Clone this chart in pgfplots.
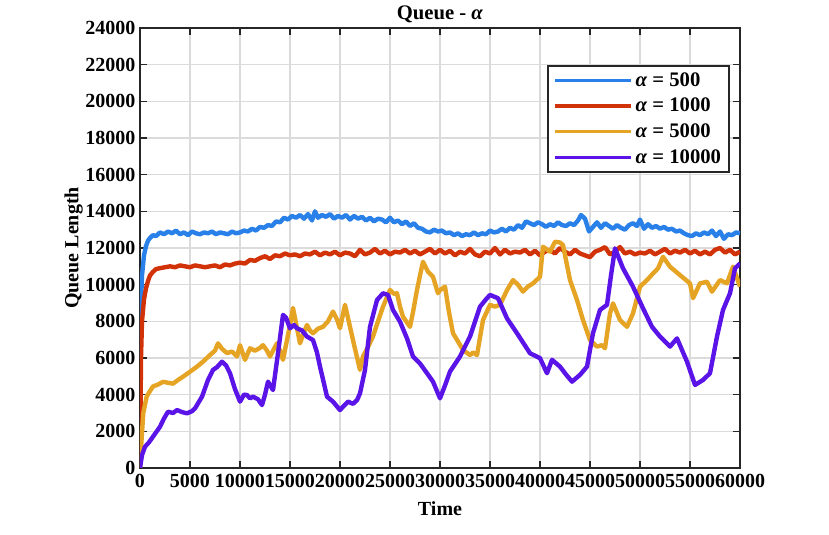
\documentclass[border=0pt]{standalone}
\usepackage{fontspec}
\setmainfont{Liberation Serif}
\usepackage{pgfplots}
\pgfplotsset{compat=1.18}
\definecolor{cblue}{HTML}{2880E8}
\definecolor{cred}{HTML}{D23208}
\definecolor{corange}{HTML}{E6A425}
\definecolor{cpurple}{HTML}{5A14E8}
\begin{document}
\begin{tikzpicture}
\useasboundingbox (-105pt,-50.25pt) rectangle (516.75pt,351pt);
\begin{axis}[
  at={(0,0)}, anchor=south west,
  scale only axis, width=450pt, height=330pt,
  xmin=0, xmax=60000, ymin=0, ymax=24000,
  xtick={0,5000,...,60000}, ytick={0,2000,...,24000},
  scaled ticks=false,
  /pgf/number format/assume math mode=true,
  /pgf/number format/1000 sep={},
  ticklabel style={font=\bfseries\fontsize{15}{15}\selectfont},
  xticklabel style={yshift=-1pt},
  grid=major,
  grid style={line width=1.1pt, color=black!14},
  axis line style={line width=1.2pt, color=black!85},
  tick style={line width=1pt, color=black!85},
  tick align=inside, major tick length=5pt,
  xlabel={\bfseries\fontsize{15}{15}\selectfont Time},
  ylabel={\bfseries\fontsize{15}{15}\selectfont Queue Length},
  title={\bfseries\fontsize{15.5}{15.5}\selectfont Queue - \textit{α}},
  xlabel style={yshift=-4pt},
  ylabel style={yshift=-5pt},
  title style={yshift=-6pt},
  legend style={at={(0.983,0.916)}, anchor=north east, draw=black!85, line width=1.2pt,
    font=\bfseries\fontsize{15.5}{15.5}\selectfont, row sep=3.5pt, inner xsep=4pt, inner ysep=3pt},
  legend cell align=left,
  legend image code/.code={\draw[#1, line width=2.5pt] (0pt,0pt) -- (57pt,0pt);},
  every axis plot/.append style={line width=3.3pt, line join=round},
]
\addplot[cblue] coordinates {
(0,6000)(100,9000)(200,10500)(400,11600)(600,12100)(800,12400)(1000,12550)(1300,12700)(1600,12650)(2000,12850)
(2400,12750)(2800,12900)(3200,12800)(3600,12950)(4000,12750)(4400,12850)(4800,12700)(5200,12900)(5600,12800)(6000,12750)
(6400,12850)(6800,12800)(7200,12900)(7600,12750)(8000,12850)(8400,12800)(8800,12750)(9200,12900)(9600,12800)(10000,12850)
(10400,12950)(10800,12900)(11200,13050)(11600,12950)(12000,13150)(12400,13100)(12800,13250)(13200,13200)(13600,13450)(14000,13400)
(14400,13650)(14800,13550)(15200,13750)(15600,13650)(16000,13800)(16400,13600)(16800,13850)(17200,13500)(17500,14000)(17800,13650)
(18200,13800)(18600,13700)(19000,13850)(19400,13600)(19800,13750)(20200,13650)(20600,13800)(21000,13550)(21400,13750)(21800,13600)
(22200,13700)(22600,13500)(23000,13650)(23400,13450)(23800,13600)(24200,13550)(24600,13400)(25000,13650)(25400,13400)(25800,13500)
(26200,13300)(26600,13450)(27000,13200)(27400,13350)(27800,13100)(28200,13050)(28600,12900)(29000,12850)(29400,13000)(29800,12900)
(30200,12950)(30600,12800)(31000,12850)(31400,12700)(31800,12800)(32200,12650)(32600,12750)(33000,12700)(33400,12850)(33800,12700)
(34200,12800)(34600,12750)(35000,12950)(35400,12850)(35800,12900)(36200,13050)(36600,12900)(37000,13100)(37400,13000)(37800,13250)
(38200,13100)(38600,13450)(39000,13350)(39400,13250)(39800,13400)(40200,13300)(40600,13150)(41000,13300)(41400,13200)(41800,13400)
(42200,13250)(42600,13200)(43000,13350)(43400,13250)(43800,13500)(44100,13800)(44500,13600)(44900,12900)(45300,13150)(45700,13400)
(46100,13100)(46500,13350)(46900,13200)(47300,13050)(47700,13250)(48100,13100)(48500,13000)(48900,13250)(49300,13350)(49700,13200)
(50000,13550)(50400,13050)(50800,13300)(51200,13100)(51600,13200)(52000,13050)(52400,13150)(52800,13000)(53200,13050)(53600,12900)
(54000,12950)(54400,12800)(54800,12700)(55200,12650)(55600,12800)(56000,12700)(56400,12850)(56800,12750)(57200,12950)(57600,12650)
(58000,12900)(58400,12500)(58800,12750)(59200,12700)(59600,12850)(60000,12800)
};
\addlegendentry{\textit{α} = 500}
\addplot[cred] coordinates {
(0,0)(100,6000)(200,8000)(400,9200)(600,9800)(800,10200)(1000,10500)(1300,10700)(1600,10850)(2000,10900)
(2500,10950)(3000,11000)(3500,10950)(4000,11050)(4500,11000)(5000,10950)(5500,11050)(6000,11000)(6500,10950)(7000,11000)
(7500,11050)(8000,10950)(8500,11100)(9000,11050)(9500,11150)(10000,11200)(10500,11150)(11000,11350)(11500,11300)(12000,11450)
(12500,11550)(13000,11400)(13500,11600)(14000,11550)(14500,11700)(15000,11600)(15500,11650)(16000,11550)(16500,11700)(17000,11650)
(17500,11800)(18000,11600)(18500,11750)(19000,11650)(19500,11800)(20000,11600)(20500,11750)(21000,11700)(21500,11550)(22000,11900)
(22500,11650)(23000,11750)(23500,11950)(24000,11700)(24500,11850)(25000,11650)(25500,11800)(26000,11750)(26500,11900)(27000,11700)
(27500,11850)(28000,11650)(28500,11800)(29000,11950)(29500,11700)(30000,11900)(30500,11700)(31000,11850)(31500,11600)(32000,11800)
(32500,11700)(33000,11950)(33500,11650)(34000,11550)(34500,11800)(35000,11700)(35500,12000)(36000,11650)(36500,11900)(37000,11700)
(37500,11800)(38000,11750)(38500,11900)(39000,11650)(39500,11850)(40000,11600)(40500,11800)(41000,11900)(41500,11700)(42000,12000)
(42500,11800)(43000,11650)(43500,11900)(44000,11700)(44500,11600)(45000,11500)(45500,11800)(46000,11900)(46500,12050)(47000,11650)
(47500,11800)(48000,12050)(48500,11700)(49000,11800)(49500,11650)(50000,11750)(50500,11700)(51000,11850)(51500,11650)(52000,11800)
(52500,11950)(53000,11700)(53500,11850)(54000,11750)(54500,11900)(55000,11700)(55500,11850)(56000,11650)(56500,11800)(57000,11650)
(57500,11900)(58000,12000)(58500,11750)(59000,11900)(59500,11650)(60000,11800)
};
\addlegendentry{\textit{α} = 1000}
\addplot[corange] coordinates {
(0,0)(150,1500)(330,3000)(670,3900)(1000,4200)(1300,4450)(1800,4550)(2300,4700)(2800,4650)(3300,4600)
(3800,4800)(4300,4980)(5000,5250)(5700,5530)(6300,5800)(7000,6160)(7500,6400)(7800,6800)(8200,6500)(8700,6270)
(9200,6350)(9700,6080)(10000,6700)(10500,5900)(11000,6530)(11500,6400)(12000,6550)(12300,6700)(12700,6400)(13000,6080)
(13400,6500)(13700,6800)(14000,6400)(14300,5900)(14700,6980)(15000,7800)(15300,8730)(15600,7900)(16000,6800)(16400,7400)
(16700,7800)(17000,7500)(17300,7350)(17800,7600)(18300,7700)(18800,8000)(19300,8530)(19700,8100)(20000,7620)(20500,8900)
(21000,7700)(21500,6500)(22000,5350)(22300,6080)(22800,6600)(23300,7170)(23800,8000)(24300,8800)(25000,9710)(25400,9500)
(25700,9530)(26000,8800)(26300,8250)(27000,7700)(27300,8500)(27700,9710)(28000,10500)(28300,11250)(28800,10700)(29300,10430)
(29800,9530)(30000,9700)(30500,9890)(30900,8500)(31300,7350)(31800,6900)(32300,6440)(33000,6160)(33300,6300)(33700,6160)
(34300,8070)(35000,8900)(35500,8800)(36000,8900)(36700,9700)(37300,10250)(37800,10000)(38300,9620)(38800,9900)(39300,10070)
(40000,10430)(40300,12070)(41000,11800)(41500,12340)(42000,12300)(42300,12160)(43000,10250)(43700,9160)(44300,8070)(45000,6980)
(45700,6620)(46200,6700)(46500,6530)(47000,8430)(47300,8980)(48000,8070)(48700,7700)(49300,8430)(50000,9890)(50700,10250)
(51300,10610)(51800,10890)(52300,11520)(53000,10980)(54000,10520)(55000,10070)(55300,9260)(56000,10070)(56700,10160)(57200,9620)
(58000,10250)(58700,10070)(59300,10980)(60000,9890)
};
\addlegendentry{\textit{α} = 5000}
\addplot[cpurple] coordinates {
(0,0)(200,700)(500,1160)(900,1400)(1300,1710)(2000,2250)(2400,2700)(2800,3070)(3300,3000)(3700,3160)
(4200,3050)(4700,2980)(5200,3100)(5500,3250)(6200,3890)(6800,4800)(7300,5350)(7700,5500)(8200,5800)(8600,5600)
(9000,5170)(9500,4300)(10000,3620)(10400,4000)(10700,3980)(11000,3800)(11300,3890)(11800,3750)(12200,3430)(12500,4000)
(12800,4710)(13300,4250)(13800,6260)(14300,8350)(14600,8200)(15000,7620)(15400,7800)(15700,7620)(16200,7500)(16700,7170)
(17300,6980)(17700,6300)(18000,5530)(18400,4600)(18700,3890)(19300,3620)(20000,3160)(20400,3400)(20800,3620)(21300,3500)
(21700,3700)(22000,4070)(22500,5350)(23000,7700)(23700,9160)(24300,9530)(24800,9440)(25300,8620)(26000,7980)(26700,7070)
(27300,6080)(28000,5700)(28700,5170)(29300,4710)(30000,3800)(30500,4500)(31000,5260)(32000,6080)(33000,7170)(34000,8800)
(34600,9200)(35000,9440)(35800,9260)(36700,8160)(37700,7350)(39000,6260)(40000,5990)(40700,5170)(41200,5900)(42000,5530)
(42600,5100)(43200,4710)(44000,5080)(44700,5530)(45300,7350)(46000,8620)(46700,8900)(47100,10500)(47500,11980)(48300,10890)
(49300,9890)(50300,8710)(51200,7700)(52000,7170)(53000,6620)(53700,7070)(54700,5800)(55500,4530)(56300,4800)(57000,5170)
(57700,7170)(58300,8620)(59000,9530)(59500,10890)(60000,11160)
};
\addlegendentry{\textit{α} = 10000}
\end{axis}
\end{tikzpicture}
\end{document}
